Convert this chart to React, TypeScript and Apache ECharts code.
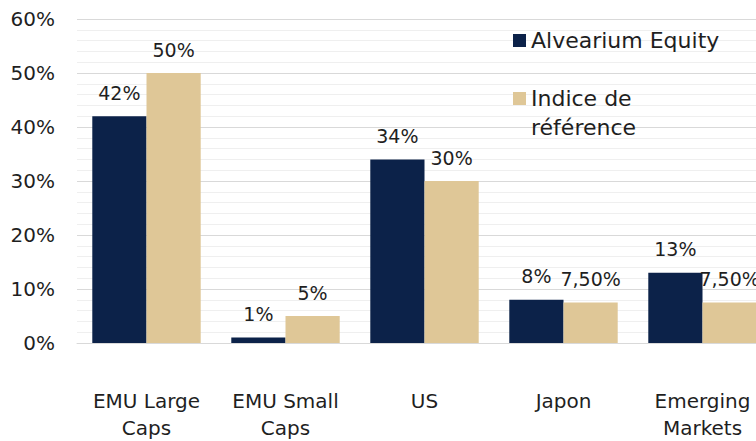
import React, { useEffect, useRef } from "react";
import * as echarts from "echarts";

const categories = ["EMU Large\nCaps", "EMU Small\nCaps", "US", "Japon", "Emerging\nMarkets"];
const alveariumEquity = [42, 1, 34, 8, 13];
const indiceReference = [50, 5, 30, 7.5, 7.5];
const seriesNames = ["Alvearium Equity", "Indice de référence"];

const FONT = "DejaVu Sans";
const TXT = "#1f1f1f";

const fmt = (v: number) =>
  Number.isInteger(v) ? `${v}%` : `${v.toFixed(2).replace(".", ",")}%`;

export default function App() {
  const ref = useRef<HTMLDivElement>(null);
  useEffect(() => {
    if (!ref.current) return;
    const chart = echarts.init(ref.current, undefined, { renderer: "svg" });
    const labelCfg = {
      show: true,
      position: "top" as const,
      distance: 14,
      fontFamily: FONT,
      fontSize: 19,
      color: TXT,
      formatter: (p: any) => fmt(p.value),
    };
    chart.setOption({
      animation: false,
      backgroundColor: "#ffffff",
      textStyle: { fontFamily: FONT },
      grid: { left: 77, top: 19, bottom: 94, right: 0, containLabel: false },
      legend: [
        {
          data: [seriesNames[0]],
          orient: "vertical",
          left: 513,
          top: 26,
          padding: 0,
          itemWidth: 13,
          itemHeight: 13,
          itemGap: 0,
          icon: "rect",
          textStyle: { fontFamily: FONT, fontSize: 22, color: TXT, lineHeight: 29 },
        },
        {
          data: [
            {
              name: seriesNames[1],
              icon: "path://M0,0H13V13H0Z M0,42H0.001",
            },
          ],
          orient: "vertical",
          left: 513,
          top: 84,
          padding: 0,
          itemWidth: 13,
          itemHeight: 42,
          formatter: () => "Indice de\nréférence",
          textStyle: { fontFamily: FONT, fontSize: 22, color: TXT, lineHeight: 29 },
        },
      ],
      xAxis: {
        type: "category",
        data: categories,
        axisLine: { show: true, lineStyle: { color: "#d9d9d9", width: 1 } },
        axisTick: { show: false },
        axisLabel: {
          fontFamily: FONT,
          fontSize: 20,
          color: TXT,
          lineHeight: 27,
          margin: 44,
          interval: 0,
        },
      },
      yAxis: {
        type: "value",
        min: 0,
        max: 60,
        interval: 10,
        axisLine: { show: false },
        axisTick: { show: false },
        axisLabel: {
          fontFamily: FONT,
          fontSize: 20,
          color: TXT,
          margin: 22,
          formatter: (v: number) => `${v}%`,
        },
        splitLine: { show: true, lineStyle: { color: "#d9d9d9", width: 1 } },
        minorTick: { show: false, splitNumber: 5 },
        minorSplitLine: { show: true, lineStyle: { color: "#efefef", width: 1 } },
      },
      series: [
        {
          name: seriesNames[0],
          type: "bar",
          data: alveariumEquity,
          barGap: "0%",
          barCategoryGap: "22%",
          itemStyle: { color: "#0c2249" },
          label: labelCfg,
        },
        {
          name: seriesNames[1],
          type: "bar",
          data: indiceReference,
          barGap: "0%",
          barCategoryGap: "22%",
          itemStyle: { color: "#dfc797" },
          label: labelCfg,
        },
      ],
    });
    return () => chart.dispose();
  }, []);
  return (
    <div
      style={{
        position: "fixed",
        left: 0,
        top: 0,
        width: 756,
        height: 441,
        overflow: "hidden",
      }}
    >
      <div ref={ref} style={{ width: 772, height: 441 }} />
    </div>
  );
}
